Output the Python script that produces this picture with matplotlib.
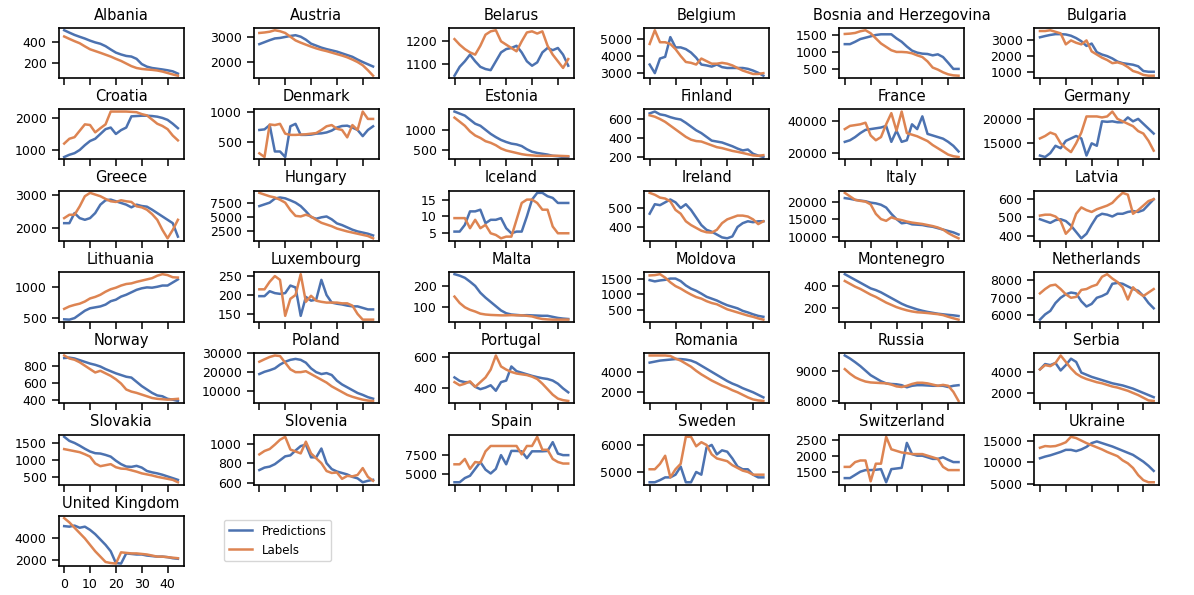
import matplotlib
matplotlib.use("Agg")
import matplotlib.pyplot as plt

# time steps (every second step of the 45-step horizon)
steps = list(range(0, 45, 2))

albania_pred = [515, 492, 470, 452, 435, 415, 398, 385, 362, 330, 300, 282, 268, 262, 240, 190, 165, 152, 145, 138, 130, 120, 98]
albania_label = [455, 432, 410, 390, 360, 332, 315, 298, 280, 262, 240, 220, 195, 170, 152, 143, 138, 134, 128, 118, 104, 90, 78]
austria_pred = [2700, 2780, 2860, 2930, 2950, 2990, 3030, 3060, 3000, 2880, 2720, 2640, 2560, 2500, 2450, 2400, 2330, 2260, 2190, 2080, 1980, 1890, 1800]
austria_label = [3150, 3170, 3200, 3260, 3220, 3150, 3000, 2850, 2760, 2680, 2600, 2530, 2470, 2420, 2360, 2300, 2240, 2170, 2080, 1980, 1850, 1650, 1430]
belarus_pred = [1045, 1085, 1110, 1140, 1110, 1085, 1075, 1070, 1110, 1150, 1165, 1170, 1180, 1150, 1110, 1090, 1105, 1150, 1170, 1160, 1170, 1140, 1090]
belarus_label = [1210, 1185, 1165, 1150, 1140, 1180, 1230, 1245, 1250, 1200, 1185, 1170, 1155, 1200, 1240, 1245, 1235, 1245, 1180, 1140, 1110, 1080, 1120]
belgium_pred = [3500, 3000, 3850, 3950, 5100, 4500, 4500, 4400, 4200, 3900, 3500, 3450, 3380, 3500, 3350, 3300, 3300, 3300, 3300, 3250, 3150, 3020, 2850]
belgium_label = [4700, 5500, 4800, 4800, 4700, 4400, 4000, 3650, 3600, 3500, 3850, 3700, 3550, 3550, 3600, 3550, 3450, 3300, 3150, 3050, 2950, 2950, 3000]
bosnia_pred = [1230, 1230, 1300, 1380, 1420, 1460, 1500, 1520, 1520, 1520, 1400, 1300, 1160, 1040, 980, 950, 940, 900, 930, 850, 680, 500, 500]
bosnia_label = [1530, 1540, 1560, 1610, 1640, 1550, 1400, 1250, 1150, 1050, 1000, 1000, 990, 960, 900, 850, 720, 540, 480, 400, 340, 310, 300]
bulgaria_pred = [3200, 3280, 3350, 3400, 3400, 3380, 3300, 3150, 2950, 2650, 2800, 2250, 2100, 2000, 1850, 1650, 1550, 1500, 1450, 1350, 1050, 1000, 1000]
bulgaria_label = [3600, 3600, 3650, 3550, 3450, 2750, 3000, 2850, 2750, 3000, 2300, 2100, 1900, 1750, 1550, 1600, 1500, 1300, 1050, 950, 800, 750, 750]
croatia_pred = [780, 850, 900, 1000, 1150, 1280, 1350, 1500, 1650, 1700, 1500, 1620, 1700, 2050, 2060, 2070, 2070, 2060, 2040, 2000, 1940, 1820, 1680]
croatia_label = [1200, 1350, 1400, 1600, 1800, 1780, 1550, 1680, 1800, 2200, 2200, 2200, 2200, 2190, 2180, 2120, 2080, 1950, 1820, 1750, 1650, 1450, 1300]
denmark_pred = [700, 710, 780, 350, 350, 260, 760, 800, 620, 620, 625, 640, 645, 660, 690, 740, 765, 770, 740, 700, 600, 700, 760]
denmark_label = [320, 260, 790, 780, 800, 640, 620, 620, 625, 630, 640, 650, 700, 760, 780, 720, 700, 580, 780, 700, 1000, 880, 880]
estonia_pred = [1450, 1400, 1350, 1250, 1150, 1100, 1000, 900, 820, 750, 700, 660, 640, 600, 520, 460, 430, 410, 390, 360, 350, 330, 330]
estonia_label = [1300, 1200, 1100, 960, 860, 800, 720, 680, 620, 540, 490, 460, 430, 400, 380, 370, 360, 360, 360, 360, 360, 355, 350]
finland_pred = [660, 680, 650, 640, 620, 605, 595, 560, 520, 480, 450, 410, 370, 360, 350, 330, 310, 285, 265, 275, 230, 210, 195]
finland_label = [640, 625, 600, 570, 530, 490, 450, 410, 380, 365, 360, 340, 320, 300, 290, 275, 260, 250, 238, 225, 212, 208, 215]
france_pred = [27000, 28000, 30000, 32500, 34500, 35000, 35500, 36000, 37000, 27000, 34000, 27000, 28000, 38000, 35000, 43000, 32000, 31000, 30000, 29000, 27000, 24500, 21000]
france_label = [35000, 37000, 37500, 38000, 39000, 31000, 28000, 30000, 38000, 45000, 34000, 46000, 32500, 31500, 30500, 29000, 27500, 25000, 23000, 21000, 19000, 18000, 17500]
germany_pred = [12500, 12200, 13000, 14500, 14000, 15500, 16000, 16500, 16000, 12500, 15000, 14500, 19500, 19400, 19500, 19300, 19300, 20300, 19500, 20000, 19000, 18000, 17000]
germany_label = [16000, 16500, 17200, 16800, 15000, 14000, 13200, 15000, 17200, 20500, 20500, 20500, 20300, 20500, 21500, 20000, 19500, 19000, 18500, 17500, 17000, 15500, 13500]
greece_pred = [2150, 2150, 2450, 2300, 2250, 2300, 2450, 2700, 2830, 2850, 2800, 2750, 2700, 2620, 2700, 2660, 2640, 2550, 2450, 2350, 2250, 2150, 1750]
greece_label = [2300, 2400, 2400, 2650, 2950, 3050, 3000, 2950, 2870, 2800, 2780, 2830, 2800, 2780, 2650, 2620, 2550, 2420, 2250, 1950, 1700, 1950, 2250]
hungary_pred = [6900, 7200, 7500, 8200, 8400, 8250, 7900, 7500, 6900, 6000, 5000, 4700, 4950, 5100, 4600, 3900, 3600, 3200, 2800, 2500, 2300, 2100, 1800]
hungary_label = [9200, 8900, 8600, 8400, 8000, 7500, 6200, 5200, 5100, 5400, 5100, 4500, 4000, 3700, 3400, 3000, 2750, 2500, 2300, 2100, 1900, 1700, 1300]
iceland_pred = [5.5, 5.5, 7.5, 11.5, 11.5, 12, 8, 9, 9, 9.5, 6.5, 5, 5.5, 5.5, 10, 15, 17, 17, 16, 15.5, 14, 14, 14]
iceland_label = [9.5, 9.5, 9.5, 6.5, 9, 6.5, 7.5, 5, 4.5, 3.5, 4, 4, 9, 14, 15, 15, 14, 12, 12, 7, 5, 5, 5]
ireland_pred = [470, 520, 515, 530, 545, 530, 500, 520, 490, 450, 410, 385, 375, 360, 345, 340, 350, 400, 420, 430, 425, 430, 430]
ireland_label = [580, 570, 555, 550, 535, 490, 470, 430, 410, 395, 380, 372, 370, 385, 420, 440, 450, 460, 460, 455, 440, 415, 430]
italy_pred = [21000, 20800, 20500, 20300, 20100, 19700, 19500, 19100, 18300, 16500, 15000, 13800, 14000, 13500, 13400, 13300, 13000, 12800, 12400, 12000, 11600, 11200, 10600]
italy_label = [22500, 21500, 20500, 20200, 20000, 19200, 16500, 15000, 14500, 15500, 15000, 14700, 14300, 14000, 13800, 13600, 13300, 13000, 12600, 12000, 11000, 10200, 9500]
latvia_pred = [490, 480, 470, 485, 490, 480, 455, 420, 385, 410, 460, 505, 520, 515, 505, 520, 520, 530, 535, 530, 540, 570, 600]
latvia_label = [510, 515, 515, 505, 480, 410, 440, 520, 555, 540, 530, 545, 555, 565, 580, 610, 635, 625, 520, 540, 565, 590, 600]
lithuania_pred = [480, 475, 500, 560, 620, 660, 675, 690, 720, 775, 800, 850, 880, 920, 960, 985, 1000, 995, 1010, 1030, 1030, 1080, 1130]
lithuania_label = [650, 690, 715, 735, 770, 820, 845, 880, 930, 970, 995, 1030, 1055, 1065, 1090, 1110, 1130, 1150, 1190, 1215, 1200, 1165, 1160]
luxembourg_pred = [197, 197, 210, 205, 203, 205, 225, 220, 145, 195, 185, 188, 240, 200, 180, 177, 175, 172, 170, 170, 166, 162, 162]
luxembourg_label = [215, 215, 235, 250, 240, 145, 190, 200, 255, 182, 198, 185, 182, 180, 180, 180, 178, 178, 172, 150, 135, 135, 135]
malta_pred = [255, 248, 238, 220, 200, 168, 145, 125, 105, 85, 72, 66, 64, 62, 63, 62, 61, 60, 60, 55, 50, 47, 45]
malta_label = [150, 120, 100, 88, 80, 70, 66, 64, 63, 62, 62, 63, 62, 62, 60, 57, 50, 45, 43, 42, 42, 42, 42]
moldova_pred = [1450, 1410, 1440, 1460, 1500, 1500, 1420, 1280, 1180, 1110, 1020, 920, 860, 800, 720, 650, 600, 550, 470, 420, 360, 310, 280]
moldova_label = [1600, 1610, 1640, 1530, 1380, 1260, 1180, 1080, 990, 910, 860, 780, 720, 680, 600, 520, 470, 420, 370, 320, 280, 230, 190]
montenegro_pred = [500, 475, 450, 425, 400, 375, 360, 340, 315, 290, 265, 240, 220, 205, 190, 178, 168, 160, 152, 147, 142, 138, 132]
montenegro_label = [440, 415, 390, 370, 345, 320, 300, 275, 250, 230, 210, 195, 182, 172, 165, 162, 158, 153, 148, 140, 125, 112, 100]
netherlands_pred = [5750, 6050, 6250, 6700, 7000, 7200, 7300, 7250, 6800, 6500, 6650, 7000, 7100, 7250, 7800, 7850, 7800, 7650, 7500, 7400, 7100, 6700, 6400]
netherlands_label = [7250, 7500, 7700, 7750, 7500, 7200, 7000, 7050, 7450, 7500, 7650, 7750, 8200, 8350, 8100, 7900, 7600, 6900, 7600, 7300, 7100, 7300, 7500]
norway_pred = [890, 895, 885, 865, 845, 825, 810, 790, 760, 735, 710, 690, 670, 660, 610, 560, 520, 480, 450, 440, 410, 400, 385]
norway_label = [920, 885, 870, 840, 800, 760, 720, 740, 710, 680, 640, 590, 520, 495, 480, 460, 440, 420, 410, 405, 400, 405, 410]
poland_pred = [19000, 20200, 21000, 22000, 24000, 25500, 26500, 27000, 26500, 25000, 22000, 20000, 19000, 19500, 18500, 15500, 13500, 12000, 10500, 9000, 8000, 6800, 6000]
poland_label = [25500, 26800, 28000, 28800, 28500, 25000, 21500, 20000, 20000, 20500, 19000, 17500, 16000, 14500, 12500, 11000, 9500, 8000, 7000, 6200, 5500, 5000, 4800]
portugal_pred = [470, 448, 440, 440, 410, 395, 405, 420, 385, 440, 450, 540, 510, 500, 490, 480, 472, 465, 460, 450, 430, 400, 375]
portugal_label = [440, 420, 430, 445, 410, 440, 470, 520, 610, 540, 520, 505, 495, 490, 485, 475, 460, 430, 395, 360, 335, 325, 320]
romania_pred = [4900, 5000, 5100, 5150, 5200, 5250, 5250, 5200, 5100, 4900, 4600, 4300, 4000, 3700, 3400, 3100, 2850, 2650, 2400, 2200, 2000, 1750, 1500]
romania_label = [5600, 5600, 5600, 5600, 5550, 5300, 5100, 4800, 4500, 4100, 3750, 3450, 3150, 2900, 2650, 2450, 2200, 2000, 1750, 1500, 1300, 1200, 1150]
russia_pred = [9500, 9400, 9280, 9150, 9000, 8850, 8750, 8650, 8580, 8560, 8550, 8520, 8450, 8500, 8520, 8520, 8510, 8500, 8500, 8500, 8460, 8500, 8520]
russia_label = [9050, 8900, 8780, 8700, 8640, 8610, 8600, 8590, 8580, 8540, 8480, 8460, 8500, 8560, 8600, 8600, 8580, 8540, 8500, 8530, 8500, 8300, 8000]
serbia_pred = [4200, 4700, 4600, 4800, 4100, 4600, 5200, 4900, 3900, 3700, 3500, 3350, 3200, 3050, 2900, 2800, 2700, 2550, 2400, 2200, 2000, 1800, 1600]
serbia_label = [4200, 4600, 4500, 4800, 5500, 4900, 4300, 3800, 3500, 3300, 3150, 3000, 2900, 2750, 2600, 2500, 2350, 2200, 2000, 1800, 1550, 1300, 1250]
slovakia_pred = [1680, 1560, 1500, 1420, 1330, 1250, 1200, 1190, 1150, 1100, 980, 880, 810, 800, 830, 780, 680, 640, 610, 570, 520, 470, 420]
slovakia_label = [1320, 1290, 1260, 1230, 1170, 1100, 900, 820, 850, 880, 790, 750, 740, 700, 660, 610, 580, 550, 510, 480, 450, 420, 350]
slovenia_pred = [730, 755, 765, 790, 830, 870, 880, 930, 975, 990, 860, 860, 950, 800, 740, 715, 700, 685, 660, 645, 605, 620, 630]
slovenia_label = [890, 925, 945, 990, 1040, 1070, 940, 920, 900, 1020, 900, 850, 800, 720, 700, 705, 640, 670, 665, 680, 750, 660, 620]
spain_pred = [3950, 3950, 4500, 4800, 5700, 6600, 5600, 5100, 5700, 7500, 6300, 8050, 8050, 8000, 7100, 8000, 8000, 8000, 8050, 9200, 7700, 7500, 7500]
spain_label = [6300, 6300, 7000, 5700, 6600, 6500, 8000, 8700, 8700, 8700, 8700, 8700, 8700, 7600, 8700, 8700, 9900, 8200, 8200, 7000, 6600, 6400, 6400]
sweden_pred = [4620, 4620, 4700, 4800, 4800, 4900, 5200, 4620, 4620, 5000, 4900, 5900, 6000, 5650, 5800, 5750, 5500, 5200, 5100, 5100, 4900, 4800, 4800]
sweden_label = [5100, 5100, 5300, 5600, 4800, 5100, 5300, 6300, 6300, 5950, 6100, 6000, 5650, 5500, 5450, 5400, 5250, 5150, 5050, 5000, 4900, 4900, 4900]
switzerland_pred = [1300, 1300, 1400, 1500, 1550, 1550, 1560, 1580, 1170, 1580, 1600, 1620, 2400, 2050, 2000, 2000, 1950, 1900, 1900, 1950, 1870, 1800, 1800]
switzerland_label = [1650, 1650, 1800, 1850, 1850, 1200, 1750, 1750, 2590, 2200, 2150, 2100, 2080, 2050, 2050, 2050, 2000, 1950, 1900, 1650, 1550, 1550, 1550]
ukraine_pred = [11000, 11400, 11700, 12100, 12500, 13000, 13000, 12700, 13100, 13700, 14600, 15000, 14600, 14200, 13800, 13300, 12800, 12300, 11800, 11000, 10200, 9200, 8000]
ukraine_label = [13500, 13900, 13800, 13900, 14300, 14800, 16100, 15800, 15200, 14600, 14100, 13600, 13100, 12500, 12000, 11500, 10500, 9800, 8700, 7000, 5800, 5300, 5300]
uk_pred = [5150, 5100, 5200, 5000, 5100, 4800, 4400, 3900, 3400, 2800, 1700, 1650, 2600, 2550, 2500, 2500, 2400, 2350, 2300, 2300, 2250, 2150, 2100]
uk_label = [5900, 5500, 5000, 4500, 4000, 3400, 2800, 2300, 1800, 1700, 1650, 2700, 2650, 2600, 2600, 2550, 2500, 2400, 2300, 2300, 2250, 2200, 2150]

countries = [
    ("Albania", albania_pred, albania_label, [200, 400]),
    ("Austria", austria_pred, austria_label, [2000, 3000]),
    ("Belarus", belarus_pred, belarus_label, [1100, 1200]),
    ("Belgium", belgium_pred, belgium_label, [3000, 4000, 5000]),
    ("Bosnia and Herzegovina", bosnia_pred, bosnia_label, [500, 1000, 1500]),
    ("Bulgaria", bulgaria_pred, bulgaria_label, [1000, 2000, 3000]),
    ("Croatia", croatia_pred, croatia_label, [1000, 2000]),
    ("Denmark", denmark_pred, denmark_label, [500, 1000]),
    ("Estonia", estonia_pred, estonia_label, [500, 1000]),
    ("Finland", finland_pred, finland_label, [200, 400, 600]),
    ("France", france_pred, france_label, [20000, 40000]),
    ("Germany", germany_pred, germany_label, [15000, 20000]),
    ("Greece", greece_pred, greece_label, [2000, 3000]),
    ("Hungary", hungary_pred, hungary_label, [2500, 5000, 7500]),
    ("Iceland", iceland_pred, iceland_label, [5, 10, 15]),
    ("Ireland", ireland_pred, ireland_label, [400, 500]),
    ("Italy", italy_pred, italy_label, [10000, 15000, 20000]),
    ("Latvia", latvia_pred, latvia_label, [400, 500, 600]),
    ("Lithuania", lithuania_pred, lithuania_label, [500, 1000]),
    ("Luxembourg", luxembourg_pred, luxembourg_label, [150, 200, 250]),
    ("Malta", malta_pred, malta_label, [100, 200]),
    ("Moldova", moldova_pred, moldova_label, [500, 1000, 1500]),
    ("Montenegro", montenegro_pred, montenegro_label, [200, 400]),
    ("Netherlands", netherlands_pred, netherlands_label, [6000, 7000, 8000]),
    ("Norway", norway_pred, norway_label, [400, 600, 800]),
    ("Poland", poland_pred, poland_label, [10000, 20000, 30000]),
    ("Portugal", portugal_pred, portugal_label, [400, 600]),
    ("Romania", romania_pred, romania_label, [2000, 4000]),
    ("Russia", russia_pred, russia_label, [8000, 9000]),
    ("Serbia", serbia_pred, serbia_label, [2000, 4000]),
    ("Slovakia", slovakia_pred, slovakia_label, [500, 1000, 1500]),
    ("Slovenia", slovenia_pred, slovenia_label, [600, 800, 1000]),
    ("Spain", spain_pred, spain_label, [5000, 7500]),
    ("Sweden", sweden_pred, sweden_label, [5000, 6000]),
    ("Switzerland", switzerland_pred, switzerland_label, [1500, 2000, 2500]),
    ("Ukraine", ukraine_pred, ukraine_label, [5000, 10000, 15000]),
    ("United Kingdom", uk_pred, uk_label, [2000, 4000]),
]

BLUE = "#4C72B0"
ORANGE = "#DD8452"

plt.rcParams.update({
    "font.family": "DejaVu Sans",
    "font.size": 9,
    "axes.linewidth": 1.2,
    "xtick.major.size": 5,
    "ytick.major.size": 5,
    "xtick.major.width": 1.1,
    "ytick.major.width": 1.1,
    "xtick.labelsize": 9,
    "ytick.labelsize": 9,
})

fig, axes = plt.subplots(7, 6, figsize=(11.94, 5.95), dpi=100, sharex=True)
fig.subplots_adjust(left=0.049, right=0.971, top=0.953, bottom=0.049, wspace=0.56, hspace=0.626)

for ax, (name, pred, label, yticks) in zip(axes.flat, countries):
    ax.plot(steps, pred, color=BLUE, lw=1.8, label="Predictions")
    ax.plot(steps, label, color=ORANGE, lw=1.8, label="Labels")
    ax.set_title(name, fontsize=10.5)
    ax.set_yticks(yticks)
    ax.set_xticks([0, 10, 20, 30, 40])

for ax in axes.flat[len(countries):]:
    ax.axis("off")

handles, labels = axes.flat[0].get_legend_handles_labels()
fig.legend(handles, labels, loc="upper left", bbox_to_anchor=(218 / 1194, 1 - 514 / 595), fontsize=8.5)

fig.savefig("out.png", dpi=100)
